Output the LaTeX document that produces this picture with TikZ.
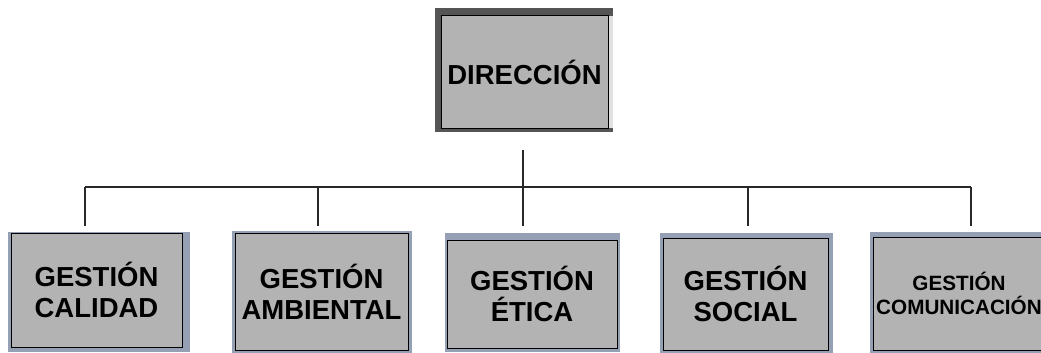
\documentclass[tikz,border=0pt]{standalone}
\usepackage{fontspec}
\setmainfont{Liberation Sans}
\definecolor{framedark}{RGB}{85,85,85}
\definecolor{framelight}{RGB}{225,225,225}
\definecolor{shadowblue}{RGB}{150,160,180}
\definecolor{boxgray}{RGB}{179,179,179}
\definecolor{linecol}{RGB}{40,40,40}
\begin{document}
\begin{tikzpicture}[x=1pt,y=-1pt,
  frameshadow/.style={fill=shadowblue},
  gbox/.style={draw=black,line width=1pt,fill=boxgray,
    inner sep=0pt,align=center,font=\bfseries\fontsize{27.5}{31}\selectfont},
  conn/.style={line width=1.6pt,draw=linecol}]
\useasboundingbox (0,0) rectangle (1041,353);
% top box frame
\fill[framedark] (435,8) rectangle (613,132);
\fill[framelight] (608,16) rectangle (613,128);
\node[gbox,minimum width=167pt,minimum height=112pt] (dir) at (524.5,72) {DIRECCIÓN};
% bottom frames
\fill[frameshadow] (8,232) rectangle (190,352);
\fill[frameshadow] (232,231) rectangle (412,353);
\fill[frameshadow] (445,233) rectangle (620,352);
\fill[frameshadow] (660,233) rectangle (833,353);
\fill[frameshadow] (870,232) rectangle (1060,353);
\node[gbox,minimum width=171pt,minimum height=114pt] (b1) at (96.5,290) {GESTIÓN\\CALIDAD};
\node[gbox,minimum width=173pt,minimum height=117pt] (b2) at (321.5,292) {GESTIÓN\\AMBIENTAL};
\node[gbox,minimum width=170pt,minimum height=108pt] (b3) at (532,294) {GESTIÓN\\ÉTICA};
\node[gbox,minimum width=165pt,minimum height=112pt] (b4) at (745.5,294) {GESTIÓN\\SOCIAL};
\node[gbox,minimum width=172pt,minimum height=113pt,font=\bfseries\fontsize{20.7}{24}\selectfont] (b5) at (959,293.5) {GESTIÓN\\COMUNICACIÓN};
% connectors
\coordinate (t) at (523,150);
\coordinate (j) at (523,187);
\coordinate (h1) at (85,187);
\coordinate (h2) at (318,187);
\coordinate (h4) at (748,187);
\coordinate (h5) at (971,187);
\coordinate (e1) at (85,226);
\coordinate (e2) at (318,226);
\coordinate (e3) at (523,226);
\coordinate (e4) at (748,226);
\coordinate (e5) at (971,226);
\draw[conn] (h1) -- (h5);
\draw[conn,line width=1.3pt] (t) -- (e3);
\draw[conn,line width=1.3pt] (h1) -- (e1);
\draw[conn,line width=1.3pt] (h2) -- (e2);
\draw[conn,line width=1.3pt] (h4) -- (e4);
\draw[conn,line width=1.3pt] (h5) -- (e5);
\end{tikzpicture}
\end{document}
